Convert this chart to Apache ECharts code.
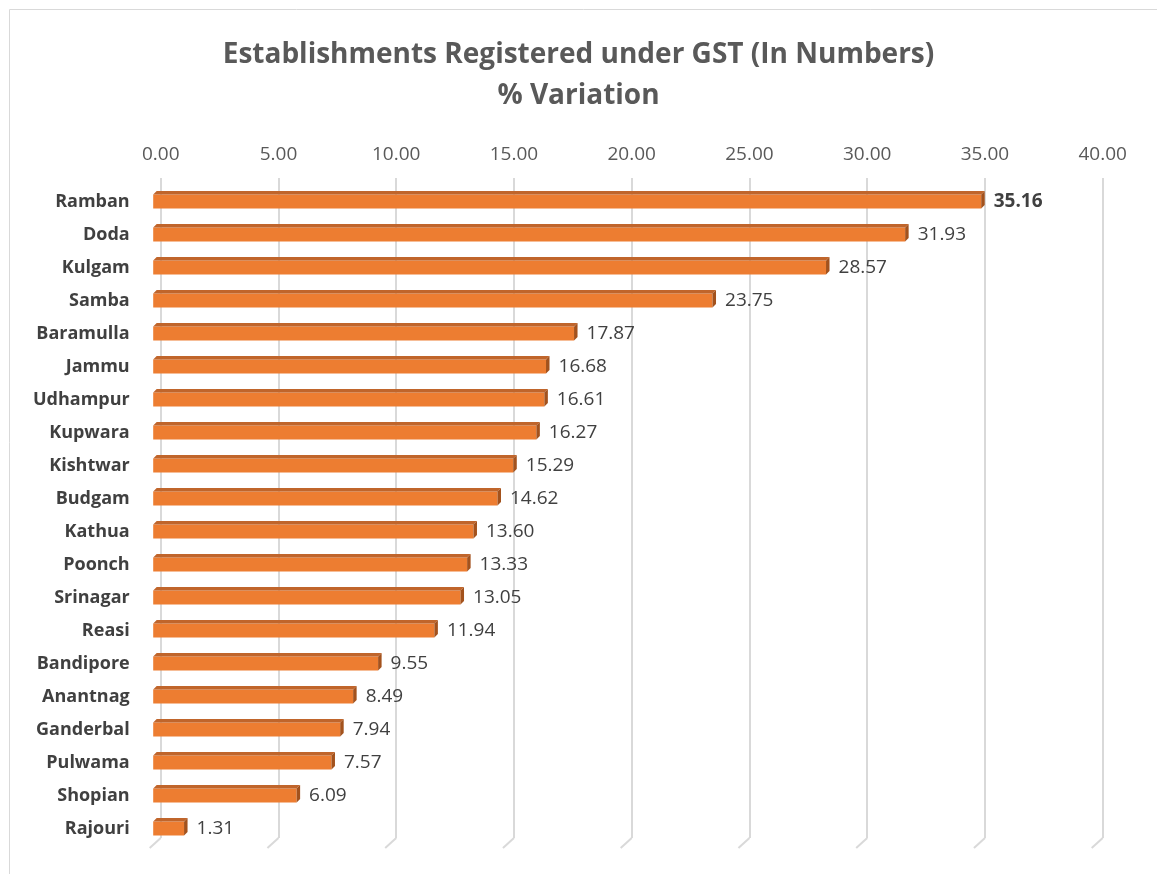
<!DOCTYPE html>
<html>
<head>
<meta charset="utf-8">
<script src="https://cdn.jsdelivr.net/npm/echarts@6/dist/echarts.min.js"></script>
<style>
  html, body { margin: 0; padding: 0; background: #fff; }
  #chart { width: 1157px; height: 874px; }
</style>
</head>
<body>
<div id="chart"></div>
<script>
var districts = ['Ramban', 'Doda', 'Kulgam', 'Samba', 'Baramulla', 'Jammu', 'Udhampur', 'Kupwara',
  'Kishtwar', 'Budgam', 'Kathua', 'Poonch', 'Srinagar', 'Reasi', 'Bandipore', 'Anantnag',
  'Ganderbal', 'Pulwama', 'Shopian', 'Rajouri'];
var variation = [35.16, 31.93, 28.57, 23.75, 17.87, 16.68, 16.61, 16.27, 15.29, 14.62,
  13.60, 13.33, 13.05, 11.94, 9.55, 8.49, 7.94, 7.57, 6.09, 1.31];
var xTicks = [0, 5, 10, 15, 20, 25, 30, 35, 40];

var chart = echarts.init(document.getElementById('chart'));

// fake 3D bar: front face shifted down-left from the back wall
function bar3d(params, api) {
  var v = api.value(0);
  var idx = api.value(1);
  var p = api.coord([v, idx]);
  var p0 = api.coord([0, idx]);
  var fx0 = p0[0] - 7.5, fx1 = p[0] - 7.5;
  var fy = p[1], h = 14, dx = 3.5, dy = 3.5;
  return {
    type: 'group',
    children: [
      { type: 'rect', shape: { x: fx0, y: fy, width: fx1 - fx0, height: h },
        style: { fill: '#ED7D31' } },
      { type: 'polygon', shape: { points: [[fx0, fy], [fx1, fy], [fx1 + dx, fy - dy], [fx0 + dx, fy - dy]] },
        style: { fill: '#C0652B' } },
      { type: 'polygon', shape: { points: [[fx1, fy], [fx1 + dx, fy - dy], [fx1 + dx, fy + h - dy], [fx1, fy + h]] },
        style: { fill: '#A3521D' } },
      { type: 'text', x: fx1 + dx + 9, y: fy + h / 2,
        style: { text: v.toFixed(2), fill: '#404040', font: (idx === 0 ? 'bold ' : '') + '19px "Open Sans"',
          verticalAlign: 'middle', align: 'left' } }
    ]
  };
}

// slanted floor part of the gridlines
function floorLine(params, api) {
  var p = api.coord([api.value(0), api.value(1)]);
  var half = api.size([0, 1])[1] / 2;
  var y = p[1] + half;
  return { type: 'line', shape: { x1: p[0], y1: y, x2: p[0] - 11, y2: y + 10 },
    style: { stroke: '#D9D9D9', lineWidth: 2 } };
}

var option = {
  animation: false,
  textStyle: { fontFamily: '"Open Sans"' },
  title: {
    text: 'Establishments Registered under GST (In Numbers)\n% Variation',
    left: 'center',
    top: 30,
    textStyle: { fontSize: 28, fontWeight: 'bold', color: '#595959', lineHeight: 41, fontFamily: '"Open Sans"' }
  },
  graphic: [{
    type: 'rect', shape: { x: 9.5, y: 9.5, width: 1200, height: 900 },
    style: { fill: 'none', stroke: '#D9D9D9', lineWidth: 1 }, silent: true
  }],
  grid: { top: 178, bottom: 36, left: 160.7, right: 54.3 },
  xAxis: {
    type: 'value', position: 'top', min: 0, max: 40, interval: 5,
    axisLine: { show: false }, axisTick: { show: false },
    axisLabel: { formatter: function (v) { return v.toFixed(2); }, color: '#595959', fontSize: 19, margin: 14 },
    splitLine: { lineStyle: { color: '#D9D9D9', width: 2 } }
  },
  yAxis: {
    type: 'category', data: districts, inverse: true,
    axisLine: { show: false }, axisTick: { show: false },
    axisLabel: { color: '#404040', fontSize: 18, fontWeight: 'bold', margin: 31,
      verticalAlign: 'top', lineHeight: 14 }
  },
  series: [
    {
      type: 'custom', name: 'floor', silent: true, z: 1,
      renderItem: floorLine,
      data: xTicks.map(function (t) { return [t, districts.length - 1]; })
    },
    {
      type: 'custom', name: '% Variation', z: 2,
      renderItem: bar3d,
      encode: { x: 0, y: 1 },
      data: variation.map(function (v, i) { return [v, i]; })
    }
  ]
};

chart.setOption(option);
window.addEventListener('resize', function () { chart.resize(); });
</script>
</body>
</html>
